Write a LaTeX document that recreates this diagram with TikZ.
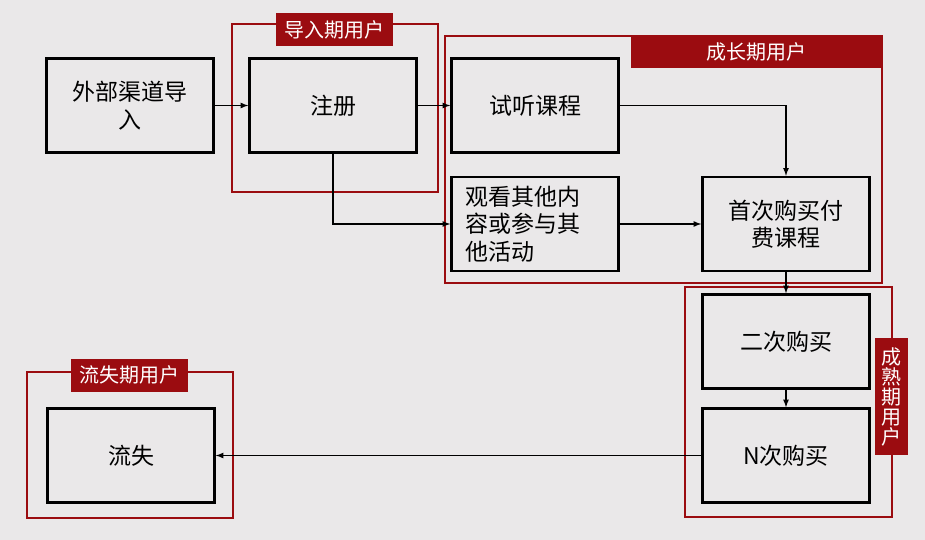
\documentclass[tikz,border=0pt]{standalone}
\usepackage{fontspec}
\setmainfont{Noto Sans CJK SC}
\usetikzlibrary{positioning, arrows}
\definecolor{stageRed}{RGB}{155,12,16}
\definecolor{bgGray}{RGB}{234,232,233}
\newcommand{\boxFont}{\fontsize{23}{27.5}\selectfont}
\newcommand{\tagFont}{\fontsize{20}{20}\selectfont}
\tikzset{
	stepBox/.style={draw=black, line width=2.4pt, fill=bgGray, minimum width=167pt, minimum height=94pt, inner sep=0pt, align=center, font=\boxFont},
	stageFrame/.style={draw=stageRed, line width=1.8pt},
	stageTag/.style={fill=stageRed, text=white, inner sep=0pt, font=\tagFont},
	flow/.style={line width=1.6pt, -latex}
}

\begin{document}
\begin{tikzpicture}[x=1pt, y=-1pt]
\fill[bgGray] (0,0) rectangle (925,540);
\useasboundingbox (0,0) rectangle (925,540);
% stage frames
\draw[stageFrame] (232,24) rectangle (438,192);
\draw[stageFrame] (445,36) rectangle (882,283);
\draw[stageFrame] (685,287) rectangle (892,517);
\draw[stageFrame] (27,372) rectangle (233,518);

% steps
\node[stepBox] (ext) at (130,105.5) {外部渠道导\\入};
\node[stepBox] (reg) at (333,105.5) {注册};
\node[stepBox] (trial) at (535,105.5) {试听课程};
\node[stepBox, align=left, text width=140pt] (watch) at (535,224) {观看其他内\\容或参与其\\他活动};
\node[stepBox] (first) at (786,224) {首次购买付\\费课程};
\node[stepBox] (second) at (786,341.5) {二次购买};
\node[stepBox] (nth) at (786,455.5) {N次购买};
\node[stepBox] (lost) at (131,455.5) {流失};

% stage tags
\node[stageTag, minimum width=117pt, minimum height=33pt] (inTag) at (334.5,29.5) {导入期用户};
\node[stageTag, minimum width=251pt, minimum height=32pt] (growTag) at (756.5,52) {成长期用户};
\node[stageTag, minimum width=33pt, minimum height=117pt, align=center] (matureTag) at (891.5,396.5) {成\\熟\\期\\用\\户};
\node[stageTag, minimum width=117pt, minimum height=33pt] (lostTag) at (129.5,375) {流失期用户};

% flows
\draw[flow] (ext) -- (reg);
\draw[flow] (reg) -- (trial);
\draw[flow] (reg.south) |- (watch.west);
\draw[flow] (trial.east) -| (first.north);
\draw[flow] (watch) -- (first);
\draw[flow] (first) -- (second);
\draw[flow] (second) -- (nth);
\draw[flow] (nth) -- (lost);
\end{tikzpicture}
\end{document}
